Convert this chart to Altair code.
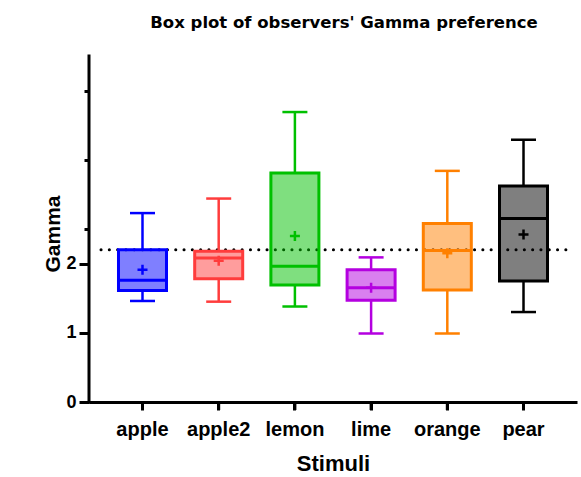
import altair as alt
import pandas as pd

stimuli = ["apple", "apple2", "lemon", "lime", "orange", "pear"]
lower = [1.46, 1.45, 1.38, 0.99, 0.99, 1.30]
q1 = [1.61, 1.78, 1.69, 1.47, 1.62, 1.75]
median = [1.76, 2.08, 1.96, 1.65, 2.19, 2.65]
q3 = [2.20, 2.18, 3.31, 1.91, 2.58, 3.12]
upper = [2.73, 2.94, 4.19, 2.09, 3.34, 3.79]
mean = [1.91, 2.04, 2.40, 1.65, 2.15, 2.42]
colors = ["#0000ff", "#ff3c3c", "#00c000", "#b400e0", "#ff8000", "#000000"]
ref_value = 2.2
y_ticks = [0, 0.5, 1, 1.5, 2, 2.2, 2.5, 3, 3.5, 4, 4.5, 5]
y_min, y_max = 0, 5

df = pd.DataFrame({
    "Stimuli": stimuli, "lower": lower, "q1": q1, "median": median,
    "q3": q3, "upper": upper, "mean": mean,
})
ref_df = pd.DataFrame({"ref": [ref_value]})
yline_df = pd.DataFrame({"a": [y_min], "b": [y_max]})

FONT = "Liberation Sans"
PLOT_H = 355          # includes a 9px strip below y=0 for the x ticks

x_axis = alt.Axis(
    title="Stimuli", labelAngle=0, ticks=True, domainWidth=3, offset=-9,
    domainColor="black", tickWidth=3, tickColor="black", tickSize=8,
    labelFontSize=20, labelPadding=9, titleFontSize=22, titlePadding=14, grid=False,
)
x_scale = alt.Scale(type="band", paddingInner=0.37, paddingOuter=0.387)


def X():
    return alt.X("Stimuli:N", sort=stimuli, scale=x_scale, axis=x_axis)


y_scale = alt.Scale(domain=[-0.13, 5], nice=False, zero=False)
minor_test = "abs(datum.value % 1 - 0.5) < 0.01"
ref_test = "abs(datum.value - 2.2) < 0.01"
y_axis = alt.Axis(
    title="Gamma", values=y_ticks, grid=False, domain=False, format="~g",
    tickColor="black", tickWidth=3,
    tickSize={"condition": {"test": minor_test, "value": 5}, "value": 10},
    labelExpr=minor_test + " ? '' : datum.label",
    labelOverlap=False, labelFontSize=18,
    labelPadding={"condition": {"test": ref_test, "value": 14}, "value": 3},
    titleFontSize=21, titlePadding=2,
)


def Y(field):
    return alt.Y(field, scale=y_scale, axis=y_axis, title="Gamma")


color_scale = alt.Scale(domain=stimuli, range=colors)
color_enc = alt.Color("Stimuli:N", sort=stimuli, scale=color_scale, legend=None)
stroke_enc = alt.Stroke("Stimuli:N", sort=stimuli, scale=color_scale, legend=None)

base = alt.Chart(df)

y_line = alt.Chart(yline_df).mark_rule(color="black", strokeWidth=3, strokeCap="square").encode(
    x=alt.value(0), y=Y("a:Q"), y2="b:Q")

ref_line = alt.Chart(ref_df).mark_rule(
    color="black", strokeWidth=3, strokeDash=[0.1, 8.2], strokeCap="round"
).encode(
    y=Y("ref:Q"),
    x=alt.value(12), x2=alt.value(480),
)

whisker_lo = base.mark_rule(strokeWidth=2.5).encode(
    x=X(), y=Y("lower:Q"), y2="q1:Q", color=color_enc)
whisker_hi = base.mark_rule(strokeWidth=2.5).encode(
    x=X(), y=Y("q3:Q"), y2="upper:Q", color=color_enc)
cap_lo = base.mark_tick(size=25, thickness=2.5, orient="horizontal", opacity=1).encode(
    x=X(), y=Y("lower:Q"), color=color_enc)
cap_hi = base.mark_tick(size=25, thickness=2.5, orient="horizontal", opacity=1).encode(
    x=X(), y=Y("upper:Q"), color=color_enc)
box = base.mark_bar(fillOpacity=0.5, strokeWidth=3).encode(
    x=X(), y=Y("q1:Q"), y2="q3:Q", fill=color_enc, stroke=stroke_enc)
med = base.mark_tick(size=48, thickness=3, orient="horizontal", opacity=1).encode(
    x=X(), y=Y("median:Q"), color=color_enc)
mean_pt = base.mark_point(
    shape="M-1,0L1,0M0,-1L0,1", size=100, filled=False, strokeWidth=2.5, opacity=1
).encode(x=X(), y=Y("mean:Q"), color=color_enc)

# category ticks under the x axis line, hanging down from y = 0
x_tick_marks = base.mark_point(
    shape="M0,0L0,2", size=64, filled=False, strokeWidth=3, color="black", opacity=1
).encode(x=X(), y=alt.datum(y_min))

chart = alt.layer(
    y_line, ref_line, box, whisker_lo, whisker_hi, cap_lo, cap_hi, med, mean_pt,
    x_tick_marks,
).properties(
    width=488, height=PLOT_H,
    title=alt.TitleParams(
        "Box plot of observers' Gamma preference", font="DejaVu Sans", fontSize=16.5,
        fontWeight="bold", color="black", anchor="middle", dx=11, offset=22,
    ),
    autosize=alt.AutoSizeParams(type="none"),
    padding={"left": 89, "top": 56, "right": 4, "bottom": 66},
).configure_view(stroke=None).configure_axis(
    labelFont=FONT, labelFontWeight="bold", labelColor="black",
    titleFont=FONT, titleFontWeight="bold", titleColor="black",
)

chart.save("out.html", embed_options={"renderer": "svg", "actions": False})
